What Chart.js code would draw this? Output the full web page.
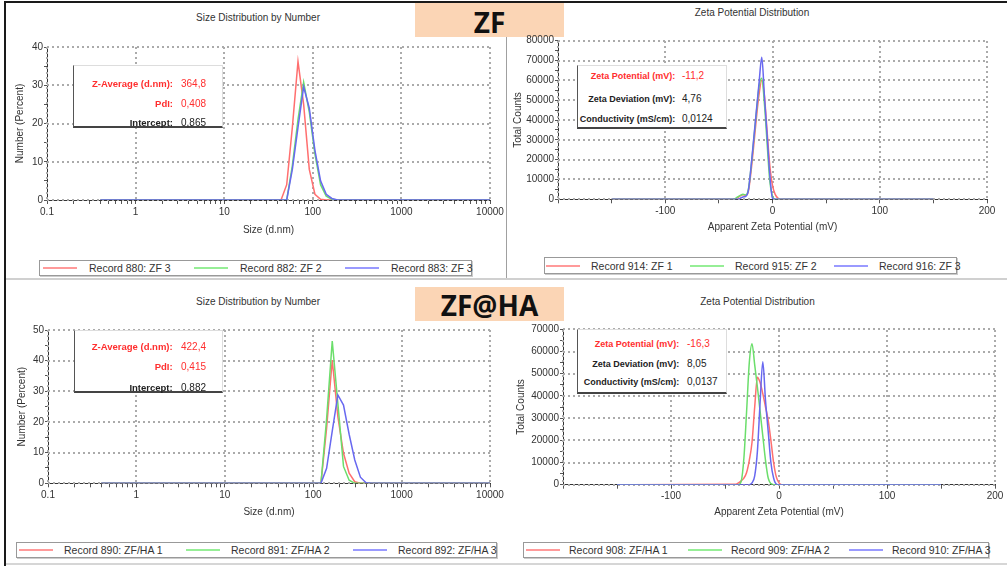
<!DOCTYPE html>
<html>
<head>
<meta charset="utf-8">
<title>ZF / ZF@HA size and zeta potential</title>
<script src="https://cdn.jsdelivr.net/npm/chart.js@4.4.1/dist/chart.umd.min.js"></script>
<style>
  html, body { margin: 0; padding: 0; background: #fff; }
  #page { position: relative; width: 1007px; height: 566px; overflow: hidden; font-family: "Liberation Sans", Arial, sans-serif; color: #333; }
  canvas { position: absolute; }
  .rule { position: absolute; }
  .tag { position: absolute; left: 415px; width: 149px; background: #fbd5b5; font-family: "Open Sans", sans-serif; font-weight: 700; font-size: 28px; color: #111; text-align: center; }
  .caption { position: absolute; white-space: nowrap; font-size: 10px; transform: translate(-50%, -50%); color: #333; }
  .info { position: absolute; background: #fff; box-sizing: border-box; border-top: 1px solid #ddd; border-right: 1px solid #ddd; border-left: 1px solid #555; border-bottom: 2px solid #444; }
  .info span { position: absolute; white-space: nowrap; height: 14px; line-height: 14px; }
  .info .k { text-align: right; font-weight: 700; }
  .info .v { font-size: 10px; }
  .legend { position: absolute; border: 1px solid #999; box-shadow: 1px 1px 0 #ccc; box-sizing: border-box; background: #fff; }
  .legend .sample { position: absolute; height: 2px; width: 34px; }
  .legend .txt { position: absolute; top: 50%; transform: translateY(-50%); font-size: 10.5px; white-space: nowrap; color: #333; }
</style>
</head>
<body>
<div id="page">
  <div class="rule" style="left:4px;top:1px;width:1003px;height:2px;background:#1a1a1a"></div>
  <div class="rule" style="left:4px;top:1px;width:2px;height:565px;background:#1a1a1a"></div>
  <div class="rule" style="left:506px;top:3px;width:1px;height:275px;background:#a0a0a0"></div>
  <div class="rule" style="left:6px;top:278px;width:1001px;height:2px;background:#d0d0d0"></div>
  <div class="rule" style="left:6px;top:563px;width:1001px;height:2px;background:#d6d6d6"></div>
  <div class="tag" style="top:3px;height:34px;line-height:38px">ZF</div>
  <div class="tag" style="top:287px;height:34px;line-height:36px">ZF@HA</div>
</div>
<script>
// Size distribution bins (d.nm)
const sizeBins = [0.4, 37.84, 43.82, 50.75, 58.77, 68.06, 78.82, 91.28, 105.7, 122.4, 141.8, 164.2, 190.1, 220.2, 255.0, 295.3, 342.0, 396.1, 458.7, 10000];

// ZF - number (%)
const zfSize880 = [0, 0, 0, 4, 19, 36.2, 25, 8, 1.5, 0.2, 0, 0, 0, 0, 0, 0, 0, 0, 0, 0];
const zfSize882 = [0, 0, 0, 0, 9, 21, 30.8, 23, 12, 4, 1, 0.2, 0, 0, 0, 0, 0, 0, 0, 0];
const zfSize883 = [0, 0, 0, 0, 8, 19, 29.6, 24, 13, 5, 1.5, 0.4, 0, 0, 0, 0, 0, 0, 0, 0];

// ZF@HA - number (%)
const zfhaSize890 = [0, 0, 0, 0, 0, 0, 0, 0, 0, 0, 18, 40.2, 21.7, 9.8, 3.3, 0.5, 0, 0, 0, 0];
const zfhaSize891 = [0, 0, 0, 0, 0, 0, 0, 0, 0, 0, 21, 46.4, 26, 5.5, 1, 0, 0, 0, 0, 0];
const zfhaSize892 = [0, 0, 0, 0, 0, 0, 0, 0, 0, 0, 4.9, 17, 28.8, 25.5, 16, 7.6, 2, 0.2, 0, 0];

// Apparent zeta potential (mV)
const zetaMv = [-150, -40, -37.5, -35, -32.5, -30, -27.5, -25, -22.5, -20, -17.5, -15, -12.5, -10, -7.5, -5, -2.5, 0, 2.5, 5, 7.5, 10, 150];

// ZF - total counts
const zfZeta914 = [0, 0, 0, 200, 800, 1800, 2300, 2000, 4000, 14000, 27000, 41000, 53000, 60000, 52000, 34000, 17000, 7000, 2500, 600, 0, 0, 0];
const zfZeta915 = [0, 0, 0, 300, 1200, 2000, 2500, 2200, 5000, 16000, 30000, 44000, 57000, 61000, 48000, 28000, 9000, 1500, 0, 0, 0, 0, 0];
const zfZeta916 = [0, 0, 0, 0, 0, 500, 1200, 1500, 4500, 16500, 30600, 44900, 59000, 71600, 51800, 32000, 12300, 500, 0, 0, 0, 0, 0];

// ZF@HA - total counts
const zfhaZeta908 = [0, 200, 800, 1800, 3000, 5500, 11000, 19000, 35000, 48400, 46000, 41000, 35000, 29000, 20000, 10000, 3500, 800, 0, 0, 0, 0, 0];
const zfhaZeta909 = [0, 0, 0, 1500, 12000, 33000, 55000, 63500, 54000, 44000, 33000, 22000, 11000, 3000, 500, 0, 0, 0, 0, 0, 0, 0, 0];
const zfhaZeta910 = [0, 0, 0, 0, 0, 0, 0, 800, 4000, 15000, 37000, 55400, 38000, 24000, 10000, 3000, 300, 0, 0, 0, 0, 0, 0];

// Tick labels
const sizeTickLabels = [0.1, 1, 10, 100, 1000, 10000];
const zetaTickLabels = [-100, 0, 100, 200];

// Legend / record names
const zfSizeLabels = ['Record 880: ZF 3', 'Record 882: ZF 2', 'Record 883: ZF 3'];
const zfZetaLabels = ['Record 914: ZF 1', 'Record 915: ZF 2', 'Record 916: ZF 3'];
const zfhaSizeLabels = ['Record 890: ZF/HA 1', 'Record 891: ZF/HA 2', 'Record 892: ZF/HA 3'];
const zfhaZetaLabels = ['Record 908: ZF/HA 1', 'Record 909: ZF/HA 2', 'Record 910: ZF/HA 3'];

// Result boxes
const sizeKeys = ['Z-Average (d.nm):', 'PdI:', 'Intercept:'];
const zetaKeys = ['Zeta Potential (mV):', 'Zeta Deviation (mV):', 'Conductivity (mS/cm):'];
const zfSizeResults = ['364,8', '0,408', '0,865'];
const zfhaSizeResults = ['422,4', '0,415', '0,882'];
const zfZetaResults = ['-11,2', '4,76', '0,0124'];
const zfhaZetaResults = ['-16,3', '8,05', '0,0137'];

const lineColors = ['#ff6f6f', '#6bde6b', '#6868f0'];
const sampleColors = ['#ff9a9a', '#96ee96', '#9a9aff'];
const redText = '#ff2e2e';

Chart.defaults.font.family = '"Liberation Sans", Arial, sans-serif';
Chart.defaults.font.size = 10;
Chart.defaults.color = '#333';

const page = document.getElementById('page');

// minor ticks of the log axis: 2..9 inside each decade
const sizeTickValues = sizeTickLabels.slice();
sizeTickLabels.slice(0, -1).forEach(d => {
    for (let k = 2; k <= 9; k++) sizeTickValues.push(d * k);
});
sizeTickValues.sort((a, b) => a - b);

function isSizeMajor(v) {
    return sizeTickLabels.some(t => Math.abs(t - v) < 1e-9);
}

// values from min to max in fixed steps (grid positions)
function steps(min, max, step) {
    const out = [];
    for (let v = min; v <= max + 1e-9; v += step) out.push(v);
    return out;
}

/**
 * Dotted grid at the major values, drawn as small dots
 */
function drawDots(chart, xValues, yValues) {
    const ctx = chart.ctx;
    const a = chart.chartArea;
    const xs = chart.scales.x;
    const ys = chart.scales.y;
    ctx.save();
    ctx.fillStyle = '#ababab';
    xValues.forEach(v => {
        const px = Math.round(xs.getPixelForValue(v)) - 1;
        for (let py = Math.ceil(a.top); py < a.bottom; py += 5) {
            ctx.fillRect(px, py, 2, 2);
        }
    });
    yValues.forEach(v => {
        const py = Math.round(ys.getPixelForValue(v)) - 1;
        for (let px = Math.ceil(a.left); px < a.right; px += 5) {
            ctx.fillRect(px, py, 2, 2);
        }
    });
    ctx.restore();
}

/**
 * One Malvern-style panel: line chart + title/legend/result box
 */
function makePanel(p) {
    const canvas = document.createElement('canvas');
    canvas.width = p.box.w;
    canvas.height = p.box.h;
    canvas.style.left = p.box.left + 'px';
    canvas.style.top = p.box.top + 'px';
    page.appendChild(canvas);

    const datasets = p.series.map((values, i) => ({
        label: p.labels[i],
        data: p.xs.map((x, j) => ({ x: x, y: values[j] })),
        borderColor: lineColors[i],
        borderWidth: 1.5,
        pointRadius: 0,
        fill: false,
        tension: 0,
        cubicInterpolationMode: p.smooth ? 'monotone' : 'default',
        order: 2 - i
    }));

    const yGrid = steps(p.yRange[0], p.yRange[1], p.yGridStep);
    const gridPlugin = {
        id: 'panelGrid',
        beforeDatasetsDraw(chart) {
            drawDots(chart, p.xGrid, yGrid);
        }
    };

    new Chart(canvas, {
        type: 'line',
        data: { datasets: datasets },
        plugins: [gridPlugin],
        options: {
            responsive: false,
            animation: false,
            events: [],
            layout: { padding: { top: p.pad.top, right: p.pad.right, bottom: 0, left: 0 } },
            plugins: {
                legend: { display: false },
                tooltip: { enabled: false }
            },
            scales: {
                x: {
                    type: p.logX ? 'logarithmic' : 'linear',
                    min: p.xRange[0],
                    max: p.xRange[1],
                    afterBuildTicks: p.xTicks ? s => { s.ticks = p.xTicks.map(v => ({ value: v })); } : undefined,
                    afterFit: s => { s.height = p.xAxisH; s.paddingLeft = 0; s.paddingRight = 0; },
                    ticks: { stepSize: p.xStep, autoSkip: false, maxRotation: 0, padding: 2, color: '#333', callback: p.xLabel },
                    grid: { drawOnChartArea: false, color: '#555', tickLength: 4 },
                    border: { color: '#333', width: 1 },
                    title: { display: true, text: p.xTitle, color: '#333', font: { size: 10 }, padding: { top: 0, bottom: p.xTitlePad } }
                },
                y: {
                    type: 'linear',
                    min: p.yRange[0],
                    max: p.yRange[1],
                    afterFit: s => { s.width = p.yAxisW; s.paddingTop = 0; s.paddingBottom = 0; },
                    ticks: {
                        stepSize: p.yStep, autoSkip: false, padding: 1, color: '#333',
                        callback: v => (v % p.yGridStep === 0) ? String(v) : ''
                    },
                    grid: { drawOnChartArea: false, color: '#555', tickLength: 3 },
                    border: { color: '#333', width: 1 },
                    title: { display: true, text: p.yTitle, color: '#333', font: { size: 10 }, padding: { top: p.yTitlePad, bottom: 0 } }
                }
            }
        }
    });

    const cap = document.createElement('div');
    cap.className = 'caption';
    cap.textContent = p.title;
    cap.style.left = p.titlePos[0] + 'px';
    cap.style.top = p.titlePos[1] + 'px';
    page.appendChild(cap);

    buildInfo(p.info, p.infoKeys, p.infoValues, p.redRows);
    buildLegend(p.legend, p.labels);
}

function buildInfo(b, keys, values, redRows) {
    const box = document.createElement('div');
    box.className = 'info';
    box.style.cssText = `left:${b.left}px;top:${b.top}px;width:${b.width}px;height:${b.height}px`;
    keys.forEach((key, i) => {
        const color = i < redRows ? redText : '#222';
        const k = document.createElement('span');
        k.className = 'k';
        k.textContent = key;
        k.style.cssText = `left:0;width:${b.keyW}px;top:${b.rows[i] - 7}px;font-size:${b.keySize}px;color:${color}`;
        const v = document.createElement('span');
        v.className = 'v';
        v.textContent = values[i];
        v.style.cssText = `left:${b.valueX}px;top:${b.rows[i] - 7}px;color:${color}`;
        box.appendChild(k);
        box.appendChild(v);
    });
    page.appendChild(box);
}

function buildLegend(l, labels) {
    const box = document.createElement('div');
    box.className = 'legend';
    box.style.cssText = `left:${l.left}px;top:${l.top}px;width:${l.width}px;height:${l.height}px`;
    labels.forEach((text, i) => {
        const s = document.createElement('div');
        s.className = 'sample';
        s.style.left = Math.round(l.sampleX + i * l.step) + 'px';
        s.style.top = Math.round(l.height / 2 - 2) + 'px';
        s.style.background = sampleColors[i];
        const t = document.createElement('div');
        t.className = 'txt';
        t.textContent = text;
        t.style.left = Math.round(l.textX + i * l.step) + 'px';
        box.appendChild(s);
        box.appendChild(t);
    });
    page.appendChild(box);
}

const zetaLabel = v => zetaTickLabels.includes(v) ? String(v) : '';
const zetaGrid = [-200].concat(zetaTickLabels);

// ZF - size
makePanel({
    box: { left: 5, top: 30, w: 500, h: 215 }, pad: { top: 17, right: 15 },
    yAxisW: 42, xAxisH: 45, yTitlePad: 9, xTitlePad: 9,
    xs: sizeBins, series: [zfSize880, zfSize882, zfSize883], labels: zfSizeLabels,
    logX: true, xRange: [0.1, 10000], xTicks: sizeTickValues, xGrid: sizeTickLabels,
    xLabel: v => isSizeMajor(v) ? String(v) : '', xTitle: 'Size (d.nm)',
    yRange: [0, 40], yStep: 5, yGridStep: 10, yTitle: 'Number (Percent)',
    title: 'Size Distribution by Number', titlePos: [258, 17],
    info: { left: 73, top: 65, width: 150, height: 63, rows: [18, 37.5, 56.5], keyW: 99, valueX: 107, keySize: 9.5 },
    infoKeys: sizeKeys, infoValues: zfSizeResults, redRows: 2,
    legend: { left: 39, top: 260, width: 433, height: 16, step: 151, sampleX: 3, textX: 49 },
    smooth: false
});

// ZF - zeta
makePanel({
    box: { left: 508, top: 25, w: 497, h: 220 }, pad: { top: 15.7, right: 18 },
    yAxisW: 50, xAxisH: 45.7, yTitlePad: 4, xTitlePad: 12,
    xs: zetaMv, series: [zfZeta914, zfZeta915, zfZeta916], labels: zfZetaLabels,
    logX: false, xRange: [-200, 200], xStep: 50, xGrid: zetaGrid,
    xLabel: zetaLabel, xTitle: 'Apparent Zeta Potential (mV)',
    yRange: [0, 80000], yStep: 5000, yGridStep: 10000, yTitle: 'Total Counts',
    title: 'Zeta Potential Distribution', titlePos: [752, 12],
    info: { left: 576.7, top: 65, width: 150, height: 64, rows: [10, 32.7, 53.3], keyW: 97.6, valueX: 104.3, keySize: 9 },
    infoKeys: zetaKeys, infoValues: zfZetaResults, redRows: 1,
    legend: { left: 544, top: 257, width: 413, height: 17, step: 144, sampleX: 1, textX: 46 },
    smooth: true
});

// ZF@HA - size
makePanel({
    box: { left: 5, top: 315, w: 500, h: 215 }, pad: { top: 15, right: 15 },
    yAxisW: 43, xAxisH: 46.7, yTitlePad: 11.7, xTitlePad: 12,
    xs: sizeBins, series: [zfhaSize890, zfhaSize891, zfhaSize892], labels: zfhaSizeLabels,
    logX: true, xRange: [0.1, 10000], xTicks: sizeTickValues, xGrid: sizeTickLabels,
    xLabel: v => isSizeMajor(v) ? String(v) : '', xTitle: 'Size (d.nm)',
    yRange: [0, 50], yStep: 5, yGridStep: 10, yTitle: 'Number (Percent)',
    title: 'Size Distribution by Number', titlePos: [258, 300.7],
    info: { left: 74, top: 330, width: 149, height: 63, rows: [16, 36, 56.7], keyW: 97.7, valueX: 106, keySize: 9.5 },
    infoKeys: sizeKeys, infoValues: zfhaSizeResults, redRows: 2,
    legend: { left: 16, top: 542, width: 481, height: 16, step: 167, sampleX: 2, textX: 47 },
    smooth: false
});

// ZF@HA - zeta
makePanel({
    box: { left: 508, top: 315, w: 499, h: 215 }, pad: { top: 14.3, right: 12 },
    yAxisW: 55, xAxisH: 45.3, yTitlePad: 7, xTitlePad: 11.7,
    xs: zetaMv, series: [zfhaZeta908, zfhaZeta909, zfhaZeta910], labels: zfhaZetaLabels,
    logX: false, xRange: [-200, 200], xStep: 50, xGrid: zetaGrid,
    xLabel: zetaLabel, xTitle: 'Apparent Zeta Potential (mV)',
    yRange: [0, 70000], yStep: 5000, yGridStep: 10000, yTitle: 'Total Counts',
    title: 'Zeta Potential Distribution', titlePos: [757.5, 301],
    info: { left: 576.7, top: 329, width: 150, height: 65, rows: [14.3, 33.7, 52], keyW: 101.6, valueX: 109.3, keySize: 9 },
    infoKeys: zetaKeys, infoValues: zfhaZetaResults, redRows: 1,
    legend: { left: 523, top: 542, width: 466, height: 16, step: 161.5, sampleX: 2, textX: 45 },
    smooth: true
});
</script>
</body>
</html>
